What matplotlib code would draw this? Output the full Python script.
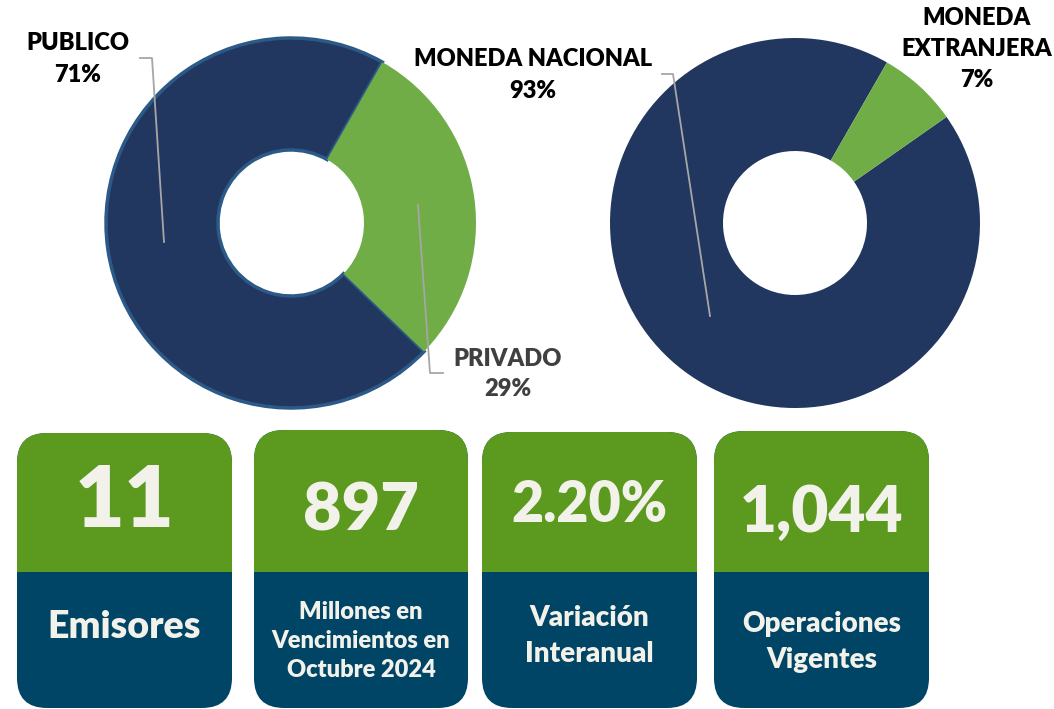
import matplotlib
matplotlib.use("Agg")
import matplotlib.pyplot as plt
from matplotlib.patches import FancyBboxPatch, Rectangle

plt.rcParams['font.family'] = ['Lato', 'DejaVu Sans']

# donut data
sector_labels = ['PUBLICO', 'PRIVADO']
sector_values = [71, 29]
currency_labels = ['MONEDA NACIONAL', 'MONEDA\nEXTRANJERA']
currency_values = [93, 7]

# card data
card_values = ['11', '897', '2.20%', '1,044']
card_labels = ['Emisores', 'Millones en\nVencimientos en\nOctubre 2024',
               'Variación\nInteranual', 'Operaciones\nVigentes']

NAVY = '#22375F'
GREEN = '#70AD47'
CARD_GREEN = '#5B991F'
CARD_BLUE = '#004466'
CARD_TEXT = '#F2F2EA'
LEADER = '#A6A6A6'
WEIGHT = 'heavy'

W, H = 1054, 709
fig = plt.figure(figsize=(W / 100, H / 100), dpi=100)
ax = fig.add_axes([0, 0, 1, 1])


def Y(y):
    # pixel row -> data y
    return H - y


# left donut
w1, _ = ax.pie(sector_values, colors=[NAVY, GREEN], startangle=-44, counterclock=False,
               center=(291, Y(223)), radius=185,
               wedgeprops=dict(width=112, linewidth=0), frame=True)
w1[0].set_edgecolor('#2C5A88')
w1[0].set_linewidth(2.5)

# right donut
w2, _ = ax.pie(currency_values, colors=[NAVY, GREEN], startangle=35, counterclock=False,
               center=(795, Y(223)), radius=185,
               wedgeprops=dict(width=113, linewidth=0), frame=True)

# leader lines
ax.plot([140, 152, 164], [Y(58), Y(58), Y(242)], color=LEADER, lw=1.3)
ax.plot([418, 430, 443], [Y(205), Y(373), Y(373)], color=LEADER, lw=1.3)
ax.plot([662, 673, 710], [Y(74), Y(74), Y(316)], color=LEADER, lw=1.3)

lab_kw = dict(ha='center', va='center', fontsize=17, fontweight=WEIGHT, linespacing=1.5)
ax.text(78, Y(59), f'{sector_labels[0]}\n{sector_values[0]}%', color='black', **lab_kw)
ax.text(508, Y(374), f'{sector_labels[1]}\n{sector_values[1]}%', color='#404040', **lab_kw)
ax.text(533, Y(75), f'{currency_labels[0]}\n{currency_values[0]}%', color='black', **lab_kw)
ax.text(977, Y(49), f'{currency_labels[1]}\n{currency_values[1]}%', color='black', **lab_kw)

# cards
cards_x = [(17, 232), (254, 468), (482, 697), (714, 929)]
cards_top = [433, 430, 432, 431]
split = 572
bottom = 708
value_y = [502, 511, 505, 513]
value_size = [62, 48, 40, 46]
label_y = [627, 641, 636, 642]
label_size = [27, 17, 20, 20]
label_ls = [1.2, 1.38, 1.45, 1.5]

for i in range(4):
    x0, x1 = cards_x[i]
    top = cards_top[i]
    card = FancyBboxPatch((x0, Y(bottom)), x1 - x0, bottom - top,
                          boxstyle='round,pad=0,rounding_size=30',
                          facecolor=CARD_BLUE, edgecolor='none')
    ax.add_patch(card)
    green = Rectangle((x0, Y(split)), x1 - x0, split - top + 2,
                      facecolor=CARD_GREEN, edgecolor='none')
    ax.add_patch(green)
    green.set_clip_path(card)
    xc = (x0 + x1) / 2
    ax.text(xc, Y(value_y[i]), card_values[i], ha='center', va='center',
            fontsize=value_size[i], fontweight=WEIGHT, color=CARD_TEXT)
    ax.text(xc, Y(label_y[i]), card_labels[i], ha='center', va='center',
            fontsize=label_size[i], fontweight=WEIGHT, color=CARD_TEXT,
            linespacing=label_ls[i])

ax.set_xlim(0, W)
ax.set_ylim(0, H)
ax.set_aspect('auto')
ax.axis('off')

fig.savefig('out.png', dpi=100, facecolor='white')
